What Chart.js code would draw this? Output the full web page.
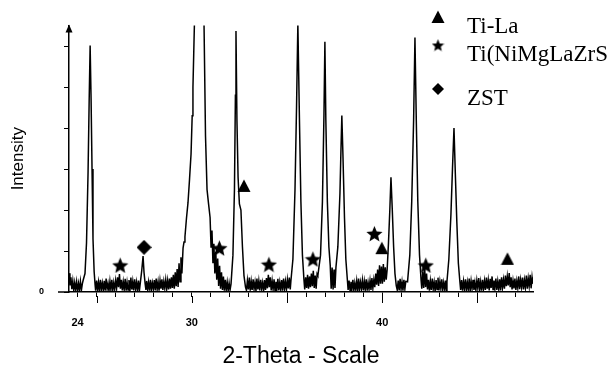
<!DOCTYPE html>
<html>
<head>
<meta charset="utf-8">
<script src="https://cdn.jsdelivr.net/npm/chart.js@4.4.1/dist/chart.umd.min.js"></script>
<style>
  html, body { margin: 0; padding: 0; background: #fff; }
</style>
</head>
<body>
<canvas id="xrd" width="611" height="367"></canvas>
<script>
// ── Data ──────────────────────────────────────────────────────────────────────

// scan: [2-theta (deg), intensity (a.u., 100 per y tick)]
const scan = [
    // background before first reflection
    [23.55,46],[23.60,16],[23.65,36],[23.70,7],[23.75,27],[23.80,3],[23.85,23],[23.90,6],[23.95,25],[24.00,2],
    [24.05,21],[24.10,5],[24.15,26],[24.20,4],[24.25,20],
    [24.29,28],[24.39,45],[24.47,120],[24.55,290],[24.61,470],[24.66,602],[24.71,470],[24.76,300],[24.81,130],[24.87,50],[24.92,18],
    [24.95,3],[25.00,28],[25.05,5],[25.10,24],[25.15,2],[25.20,30],[25.25,6],[25.30,22],[25.35,4],[25.40,27],
    [25.45,3],[25.50,33],[25.55,7],[25.60,21],[25.65,2],[25.70,26],[25.75,5],[25.80,30],[25.85,4],[25.90,23],
    [25.95,6],[26.00,28],[26.05,9],[26.10,36],[26.15,12],[26.20,44],[26.25,8],[26.30,30],[26.35,4],[26.40,25],
    [26.45,6],[26.50,32],[26.55,3],[26.60,24],[26.65,5],[26.70,29],[26.75,2],[26.80,35],[26.85,6],[26.90,26],
    [26.95,4],[27.00,31],[27.05,7],[27.10,24],[27.15,3],[27.20,28],[27.25,4],
    [27.30,24],[27.37,52],[27.44,88],[27.49,48],[27.55,20],[27.59,5],
    [27.63,27],[27.68,6],[27.73,24],[27.78,3],[27.83,30],[27.88,5],[27.93,22],[27.98,7],[28.03,29],[28.08,4],
    [28.13,33],[28.18,6],[28.23,25],[28.28,3],[28.33,28],[28.38,8],[28.43,31],[28.48,5],[28.53,26],[28.58,9],
    [28.63,30],[28.68,7],[28.73,28],
    // strong reflection near 30.4 (off scale)
    [28.78,6],[28.83,33],[28.88,8],[28.93,36],[28.98,10],[29.03,42],[29.08,8],[29.13,48],[29.18,14],[29.23,56],
    [29.28,12],[29.33,70],[29.38,25],[29.43,85],[29.48,45],[29.54,107],[29.59,122],[29.64,135],[29.72,180],[29.80,218],
    [29.88,275],[29.96,337],[30.02,430],[30.06,500],[30.10,580],[30.14,660],[30.25,1200],[30.38,1600],[30.52,1150],[30.64,660],
    [30.72,380],[30.80,250],[30.88,215],[30.96,182],
    [31.01,110],[31.06,150],[31.11,70],[31.16,118],[31.21,45],[31.26,98],[31.31,30],[31.36,82],[31.41,15],[31.46,64],
    [31.51,8],[31.56,48],[31.61,5],[31.66,38],[31.71,3],[31.76,30],[31.81,5],[31.86,24],[31.91,3],[31.96,22],[32.01,5],
    [32.06,20],[32.16,90],[32.24,250],[32.29,480],[32.32,637],[32.37,420],[32.43,280],[32.50,215],[32.58,200],[32.66,110],
    [32.74,40],[32.82,12],
    [32.87,4],[32.92,28],[32.97,6],[33.02,35],[33.07,3],[33.12,26],[33.17,5],[33.22,31],[33.27,7],[33.32,24],
    [33.37,2],[33.42,33],[33.47,6],[33.52,27],[33.57,4],[33.62,30],[33.67,8],[33.72,23],[33.77,3],[33.82,29],
    [33.87,5],[33.92,34],[33.97,9],[34.02,42],[34.07,12],[34.12,36],[34.17,4],[34.22,27],[34.27,6],[34.32,31],
    [34.37,3],[34.42,25],[34.47,7],[34.52,32],[34.57,4],[34.62,24],[34.67,6],[34.72,29],[34.77,3],[34.82,33],
    [34.87,8],[34.92,26],[34.97,5],[35.02,30],[35.07,9],[35.12,35],[35.17,6],
    [35.21,30],[35.31,80],[35.42,250],[35.50,450],[35.57,655],[35.65,430],[35.73,220],[35.81,90],[35.89,30],
    [35.93,6],[35.98,36],[36.03,10],[36.08,42],[36.13,8],[36.18,38],[36.23,12],[36.28,45],[36.33,14],[36.38,52],
    [36.43,10],[36.48,40],[36.53,8],[36.58,44],
    [36.62,40],[36.76,90],[36.86,220],[36.94,430],[36.99,611],[37.04,420],[37.12,220],[37.20,110],[37.27,65],
    [37.32,8],[37.37,60],[37.42,6],[37.47,55],[37.52,10],
    [37.57,60],[37.67,110],[37.78,240],[37.83,340],[37.88,431],[37.94,330],[38.02,180],[38.09,80],[38.17,30],
    [38.21,5],[38.26,28],[38.31,4],[38.36,25],[38.41,7],[38.46,30],[38.51,3],[38.56,22],[38.61,6],[38.66,27],
    [38.71,2],[38.76,33],[38.81,5],[38.86,24],[38.91,8],[38.96,29],[39.01,4],[39.06,26],[39.11,6],[39.16,31],
    [39.21,3],[39.26,23],[39.31,7],[39.36,28],[39.41,5],[39.46,34],[39.51,9],[39.56,30],[39.61,12],[39.66,45],
    [39.71,18],[39.76,55],[39.81,15],[39.86,65],[39.91,20],[39.96,62],[40.01,20],[40.06,68],[40.11,25],[40.16,60],
    [40.21,30],
    [40.26,55],[40.33,120],[40.40,200],[40.46,280],[40.53,200],[40.60,110],[40.67,45],[40.74,15],
    [40.79,5],[40.84,28],[40.89,4],[40.94,32],[40.99,6],[41.04,25],[41.09,3],[41.14,30],[41.19,7],[41.24,26],
    [41.33,25],[41.45,90],[41.55,220],[41.65,420],[41.72,621],[41.79,420],[41.87,220],[41.96,90],[42.04,30],
    [42.08,8],[42.13,50],[42.18,10],[42.23,58],[42.28,12],[42.33,45],[42.38,6],[42.43,30],[42.48,3],[42.53,27],
    [42.58,5],[42.63,33],[42.68,7],[42.73,24],[42.78,2],[42.83,29],[42.88,6],[42.93,35],[42.98,4],[43.03,26],
    [43.08,8],[43.13,31],[43.18,5],[43.23,23],[43.28,7],[43.33,28],[43.37,4],
    [43.40,25],[43.50,80],[43.61,190],[43.69,300],[43.77,400],[43.84,290],[43.92,170],[44.00,70],[44.08,25],
    [44.12,5],[44.17,29],[44.22,3],[44.27,26],[44.32,7],[44.37,31],[44.42,4],[44.47,24],[44.52,6],[44.57,33],
    [44.62,2],[44.67,27],[44.72,8],[44.77,30],[44.82,5],[44.87,23],[44.92,4],[44.97,28],[45.02,9],[45.07,34],
    [45.12,6],[45.17,25],[45.22,3],[45.27,30],[45.32,7],[45.37,27],[45.42,5],[45.47,35],[45.52,8],[45.57,29],
    [45.62,4],[45.67,32],[45.72,10],[45.77,38],[45.82,6],[45.87,28],[45.92,9],[45.97,33],[46.02,5],[46.07,26],
    [46.12,7],[46.17,31],[46.22,4],[46.27,36],[46.32,11],[46.37,30],[46.42,8],[46.47,40],[46.52,14],[46.57,38],
    [46.62,16],[46.67,46],[46.72,12],[46.77,36],[46.82,6],[46.87,28],[46.92,9],[46.97,33],[47.02,5],[47.07,27],
    [47.12,10],[47.17,38],[47.22,7],[47.27,30],[47.32,12],[47.37,35],[47.42,6],[47.47,29],[47.52,11],[47.57,40],
    [47.62,8],[47.67,33],[47.72,14],[47.77,42],[47.82,9],[47.87,36],[47.91,20]
];

// phase markers: [2-theta, height where the symbol sits]
const tiLaPeaks = [[32.74, 259], [39.98, 107], [46.58, 81]];
const tiNiPeaks = [[26.24, 66], [31.45, 108], [34.05, 68], [36.36, 81], [39.59, 143], [42.29, 66]];
const zstPeaks  = [[27.49, 109]];

const phaseLabels = ["Ti-La", "Ti(NiMgLaZrS", "ZST"];

const xTickValues = [24, 25, 26, 27, 28, 29, 30, 31, 32, 33, 34, 35, 36, 37, 38, 39, 40, 41, 42, 43, 44, 45, 46, 47];
const xMajorTicks = [25, 30, 35, 40, 45];
const xLabelled   = [24, 30, 40];

// ── Symbols ───────────────────────────────────────────────────────────────────

function symbol(shape, size) {
    const c = document.createElement("canvas");
    c.width = c.height = size;
    const g = c.getContext("2d");
    const h = size / 2;
    g.fillStyle = "#000";
    g.beginPath();
    if (shape === "triangle") {
        g.moveTo(h, 0.5);
        g.lineTo(size - 0.5, size - 1);
        g.lineTo(0.5, size - 1);
    } else if (shape === "diamond") {
        g.moveTo(h, 0);
        g.lineTo(size, h);
        g.lineTo(h, size);
        g.lineTo(0, h);
    } else {
        // five-pointed star
        for (let i = 0; i < 10; i++) {
            const r = i % 2 ? h * 0.45 : h;
            const a = -Math.PI / 2 + i * Math.PI / 5;
            g.lineTo(h + r * Math.cos(a), h + r * Math.sin(a) + size * 0.06);
        }
    }
    g.closePath();
    g.fill();
    return c;
}

const plotSymbols = [symbol("triangle", 14), symbol("star", 17), symbol("diamond", 15)];
const keySymbols  = [symbol("triangle", 14), symbol("star", 13), symbol("diamond", 12)];

// ── Extras: axis arrow, long ticks, x-axis stub, phase key ───────────────────

const axisExtras = {
    id: "axisExtras",
    afterDraw(chart) {
        const { ctx, chartArea: a, scales: { x } } = chart;
        ctx.save();
        ctx.strokeStyle = "#000";
        ctx.fillStyle = "#000";

        // x axis runs a little past the intensity axis
        ctx.lineWidth = 1.5;
        ctx.beginPath();
        ctx.moveTo(58, a.bottom);
        ctx.lineTo(a.left, a.bottom);
        ctx.stroke();

        // longer ticks every 5 degrees
        ctx.lineWidth = 1;
        xMajorTicks.forEach(v => {
            const px = Math.round(x.getPixelForValue(v)) + 0.5;
            ctx.beginPath();
            ctx.moveTo(px, a.bottom + 4);
            ctx.lineTo(px, a.bottom + 11);
            ctx.stroke();
        });

        // arrow head on the intensity axis
        ctx.beginPath();
        ctx.moveTo(a.left, a.top - 1);
        ctx.lineTo(a.left - 3.5, a.top + 7);
        ctx.lineTo(a.left + 3.5, a.top + 7);
        ctx.closePath();
        ctx.fill();

        // phase key (top right, outside the plot)
        const symY  = [17, 45, 89];
        const textY = [33, 61, 105];
        ctx.font = "23px 'Liberation Serif', 'Times New Roman', serif";
        ctx.textBaseline = "alphabetic";
        ctx.textAlign = "left";
        chart.data.datasets.slice(1).forEach((ds, i) => {
            const img = keySymbols[i];
            ctx.drawImage(img, 438 - img.width / 2, symY[i] - img.height / 2);
            ctx.fillText(ds.label, 467, textY[i]);
        });
        ctx.restore();
    }
};

// ── Chart ─────────────────────────────────────────────────────────────────────

const axisFont = "'Liberation Sans', Arial, sans-serif";
const toXY = pts => pts.map(([x, y]) => ({ x, y }));

const markerSet = (label, pts, img) => ({
    label: label,
    data: toXY(pts),
    pointStyle: img,
    pointRadius: 7,
    order: 1,
});

new Chart(document.getElementById("xrd"), {
    type: "scatter",
    data: {
        datasets: [
            {
                label: "scan",
                data: toXY(scan),
                showLine: true,
                borderColor: "#000",
                borderWidth: 1.5,
                pointRadius: 0,
                order: 2,
            },
            markerSet(phaseLabels[0], tiLaPeaks, plotSymbols[0]),
            markerSet(phaseLabels[1], tiNiPeaks, plotSymbols[1]),
            markerSet(phaseLabels[2], zstPeaks, plotSymbols[2]),
        ]
    },
    options: {
        responsive: false,
        animation: false,
        events: [],
        layout: { padding: { left: 0, right: 78, top: 18, bottom: 0 } },
        plugins: {
            legend: { display: false },
            tooltip: { enabled: false },
        },
        scales: {
            x: {
                type: "linear",
                min: 23.55,
                max: 47.92,
                afterBuildTicks: axis => { axis.ticks = xTickValues.map(v => ({ value: v })); },
                afterFit: axis => { axis.height = 75; },
                grid: { drawOnChartArea: false, drawTicks: true, tickLength: 5, tickColor: "#000", tickWidth: 1 },
                border: { display: true, color: "#000", width: 1.5 },
                ticks: {
                    autoSkip: false,
                    maxRotation: 0,
                    padding: 19,
                    color: "#000",
                    font: { family: axisFont, size: 11, weight: "bold" },
                    callback: v => xLabelled.includes(v) ? String(v) : "",
                },
                title: {
                    display: true,
                    text: "2-Theta - Scale",
                    color: "#000",
                    font: { family: axisFont, size: 23, lineHeight: 0.9 },
                    padding: { top: 0, bottom: 0 },
                },
            },
            y: {
                min: 0,
                max: 650.8,
                afterFit: axis => { axis.width = 69; },
                grid: { drawOnChartArea: false, drawTicks: true, tickLength: 5, tickColor: "#000", tickWidth: 1 },
                border: { display: true, color: "#000", width: 1.5 },
                ticks: {
                    stepSize: 100,
                    includeBounds: false,
                    padding: 20,
                    color: "#000",
                    font: { family: axisFont, size: 9, weight: "bold" },
                    callback: v => v === 0 ? "0" : "",
                },
                title: {
                    display: true,
                    text: "Intensity",
                    color: "#000",
                    font: { family: axisFont, size: 17 },
                    padding: { top: 8, bottom: 0 },
                },
            },
        },
    },
    plugins: [axisExtras],
});
</script>
</body>
</html>
